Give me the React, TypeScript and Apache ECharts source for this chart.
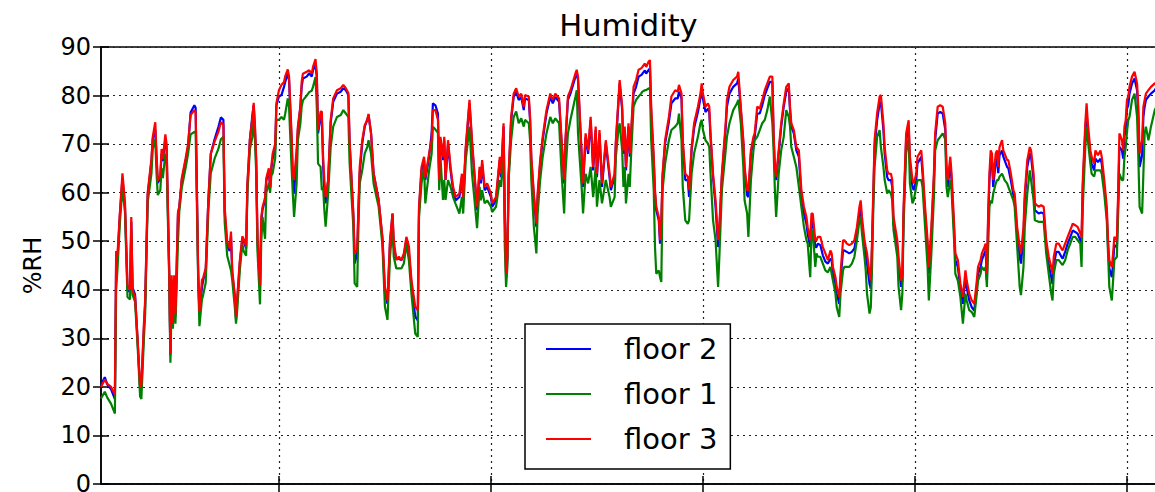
import React, { useEffect, useRef } from "react";
import * as echarts from "echarts";

// time in hours from the start of the record
const hours = [
  0, 3, 5, 8, 11, 12, 13, 15, 17, 19,
  21, 23, 24, 25, 27, 29, 31, 32, 34, 35,
  37, 40, 41, 43, 44, 45, 47, 48, 49, 51,
  52, 54, 55, 56, 57, 58, 59, 61, 62, 64,
  67, 69, 71, 74, 75, 77, 78, 80, 81, 83,
  85, 87, 90, 93, 95, 97, 98, 100, 102, 103,
  104, 106, 107, 108, 110, 112, 113, 115, 116, 118,
  120, 121, 122, 123, 124, 126, 127, 128, 130, 131,
  133, 134, 135, 136, 138, 139, 141, 143, 145, 146,
  148, 149, 151, 152, 153, 155, 156, 158, 159, 160,
  163, 165, 167, 168, 170, 171, 172, 174, 175, 176,
  177, 178, 180, 182, 184, 187, 190, 192, 194, 196,
  197, 199, 200, 201, 203, 204, 205, 207, 209, 211,
  212, 214, 216, 220, 223, 225, 227, 229, 231, 232,
  234, 236, 238, 240, 242, 244, 246, 249, 251, 252,
  254, 256, 257, 260, 262, 263, 265, 267, 268, 269,
  271, 272, 273, 275, 277, 279, 281, 284, 286, 287,
  289, 292, 294, 296, 298, 300, 301, 302, 304, 306,
  309, 310, 313, 316, 317, 319, 320, 321, 322, 323,
  325, 327, 329, 331, 333, 335, 336, 339, 340, 341,
  343, 345, 346, 348, 350, 353, 356, 358, 360, 363,
  365, 367, 368, 370, 372, 376, 377, 378, 381, 382,
  384, 386, 388, 390, 392, 393, 395, 397, 400, 403,
  404, 407, 408, 410, 411, 413, 414, 415, 416, 418,
  419, 420, 422, 424, 426, 428, 429, 431, 432, 434,
  435, 436, 438, 439, 440, 442, 443, 444, 445, 447,
  450, 452, 455, 457, 458, 460, 461, 463, 465, 466,
  468, 470, 473, 475, 476, 477, 479, 481, 482, 483,
  485, 487, 489, 490, 492, 495, 496, 498, 501, 504,
  505, 507, 509, 510, 512, 513, 515, 517, 518, 520,
  522, 524, 526, 528, 530, 532, 533, 534, 535, 537,
  539, 541, 543, 545, 546, 547, 549, 551, 553, 555,
  557, 559, 560, 562, 563, 564, 566, 567, 568, 570,
  572, 574, 576, 578, 579, 580, 582, 583, 585, 586,
  588, 589, 591, 593, 595, 597, 599, 601, 602, 603,
  605, 606, 607, 609, 610, 611, 612, 613, 615, 617,
  618, 620, 621, 623, 624, 626, 627, 628, 631, 632,
  634, 635, 636, 638, 640, 641, 643, 644, 646, 647,
  650, 651, 653, 655, 656, 658, 660, 661, 663, 665,
  667, 669, 670, 671, 673, 674, 676, 677, 679, 681,
  683, 685, 686, 688, 690, 692, 694, 695, 697, 698,
  700, 701, 702, 703, 704, 705, 706, 707, 709, 710,
  711, 712, 714, 715, 716, 718, 719, 721, 723, 724,
  726, 728, 729, 731, 732, 734, 736, 737, 739, 740,
  743, 745, 747, 749, 751, 753, 754, 755, 757, 759,
  761, 762, 764, 766, 769, 770, 772, 774, 776, 777,
  778, 780, 781, 782, 784, 785, 787, 788, 790, 792,
  793, 795, 797, 798, 799, 801, 802, 803, 805, 806,
  807, 809, 810, 811, 812, 813, 814, 815, 817, 819,
  821, 822, 823, 825, 826, 827, 828, 830, 832, 835,
  836,
];

const floor2 = [
  20.5, 22, 20.5, 19.5, 17.5, 46, 46, 55.5, 63, 57,
  40, 39.5, 54, 40.5, 39, 29.5, 19.5, 20, 32, 37,
  59.5, 66.5, 71, 73, 67, 62, 63, 68, 66.5, 71,
  69, 44, 26.5, 41, 33, 42, 34.5, 55.5, 57, 62.5,
  66.5, 69.5, 76.5, 78, 77.5, 43, 35, 40.5, 42, 44,
  58, 68, 71, 73.5, 75.5, 75, 56, 49, 48, 51,
  43.5, 38.5, 34, 38, 45.5, 50.5, 50, 48.5, 61, 71,
  76, 78, 73, 66, 50, 40.5, 54, 56.5, 58.5, 62.5,
  64.5, 61, 65, 67, 69, 78, 79.8, 80.1, 81.8, 82.8,
  84.6, 83.2, 70.8, 62.6, 59.8, 67.4, 72.9, 77.7, 81.8, 83.5,
  83.9, 84.6, 83.9, 85.2, 86.3, 83.9, 72.2, 75.6, 75, 66,
  59.1, 57.8, 62.6, 74.3, 78.7, 80.4, 80.8, 81.5, 81.1, 80.1,
  70.1, 60.2, 55, 45.4, 47.5, 56.4, 63.9, 70.1, 73.6, 75,
  76, 72.2, 64, 58.5, 50.5, 39.2, 37.1, 49.5, 55.7, 48.8,
  46.4, 46.4, 46.1, 47.1, 50.2, 47.5, 41.3, 34.4, 33.7, 56.4,
  64.6, 66.7, 62.6, 67.4, 72.2, 78.4, 78, 76.3, 63.2, 70.8,
  66.7, 70.8, 62.6, 70.1, 64.6, 60.5, 58.4, 59.1, 63.2, 58.4,
  68.7, 78.4, 70.1, 63.2, 56.4, 64.6, 61.9, 66, 60.5, 61.2,
  59.1, 57.1, 58.4, 66.7, 63.2, 73.6, 55, 42.6, 46.1, 63.2,
  74.9, 79.7, 80.8, 79.1, 79.7, 77, 79.4, 79.1, 74.9, 66.7,
  59.1, 52.9, 59.1, 66, 70.8, 76.3, 79.7, 78.4, 79.7, 78.7,
  70.1, 61.9, 70.1, 79.1, 80.4, 83.9, 84.6, 83.2, 66.7, 61.2,
  71.5, 68, 74.9, 64.6, 72.9, 63.2, 72.2, 61.2, 70.1, 63.2,
  60.5, 63.2, 70.1, 78.4, 82.5, 77, 68, 72.9, 64.6, 73.6,
  67.4, 71.5, 80.4, 81.8, 83.9, 84.2, 84.5, 85.2, 84.5, 85.3,
  85.6, 76.3, 66.4, 59.8, 56.4, 54.3, 49.5, 53.6, 63.2, 70.1,
  74.6, 78.4, 79.4, 79.4, 80.8, 79.4, 70.1, 62.6, 62.6, 59.1,
  68.7, 73.3, 76.6, 79.4, 81.1, 79.4, 76.6, 77.3, 76.6, 71.5,
  63.2, 57.1, 48.8, 52.2, 63.2, 73.3, 77.7, 80.4, 81.8, 82.5,
  83.5, 77, 70.1, 64.6, 59.5, 59.1, 68, 70.8, 71.5, 76.3,
  76.3, 78, 80.1, 81.5, 82.8, 82.8, 71.5, 64.6, 62.6, 68,
  73.6, 77.7, 80.8, 81.5, 77, 73.6, 72.2, 68.7, 67.4, 59.1,
  55.7, 53.6, 51.5, 48.8, 54.3, 54.3, 48.8, 48.8, 49.5, 49.2,
  47.1, 45.8, 45.4, 46.4, 46.1, 43.3, 41.2, 39.2, 37.1, 41.9,
  48.1, 48.1, 47.8, 47.5, 47.8, 48.5, 51.5, 55.7, 57.1, 53.6,
  48.8, 47.1, 45.4, 41.2, 40.2, 48.8, 59.1, 69.4, 74.9, 78.4,
  78.7, 72.9, 68, 63.2, 62.6, 62.6, 61.2, 53.6, 48.8, 45.4,
  40.6, 41.9, 55.7, 70.8, 73.6, 66, 61.2, 60.5, 62.6, 66,
  67.4, 64, 55.7, 48.8, 43.3, 51.5, 62.6, 70.8, 76.3, 76.6,
  76.3, 73, 64, 61.2, 66, 62.6, 52.2, 46.1, 44.7, 40.2,
  37.1, 42.6, 40.5, 37.8, 36.4, 35.7, 40.5, 43.3, 44.7, 46.1,
  47.5, 48.1, 42, 54.3, 62.5, 67, 66.4, 61.2, 66.4, 67,
  64, 67.7, 68.7, 67.4, 66.7, 65.3, 65, 62.5, 59.5, 58.8,
  51.5, 46.8, 45.4, 51.2, 58.4, 65.3, 68.1, 67.4, 62.6, 56.4,
  55.7, 55.9, 55.7, 49.2, 45.1, 42.6, 41.2, 45.1, 47.8, 47.8,
  46.8, 46.4, 47.8, 49.5, 51.5, 52.2, 51.9, 51.5, 50.2, 49.5,
  61.2, 72.9, 76.6, 72.9, 67.4, 66, 64.6, 67, 66.3, 67,
  66, 61.2, 55.7, 48.8, 44.4, 42.6, 45.4, 49.2, 48.8, 58.4,
  69.4, 68.7, 67, 71.5, 73.3, 77.3, 78, 80.4, 82.5, 83.5,
  81.1, 75.6, 65.3, 67.7, 75.6, 77.7, 79.1, 79.8, 80.4, 81.1,
  81.5,
];

const floor1 = [
  17.6, 19, 17.8, 16.5, 14.5, 40, 44, 54, 61, 56,
  38.5, 38, 52, 39, 37.5, 28.5, 18, 17.5, 30, 35,
  58, 64, 69, 71, 64, 59.5, 60.5, 65, 63, 68,
  66, 43, 25, 38, 32, 40, 33, 50, 56, 61,
  65, 68, 72, 72.5, 72.5, 42, 32.5, 38, 39, 41.5,
  56, 64, 67, 69, 71, 71.5, 54, 47, 45, 44,
  42, 36.5, 33, 36, 44, 49.5, 48, 47, 60, 69,
  71.5, 75, 71, 64, 48, 37, 50, 55, 50.5, 60,
  62, 60, 63.5, 64, 67, 75, 75, 75.6, 75, 76.3,
  79.4, 77.7, 65.3, 59.8, 55, 61.9, 70.8, 74.3, 77.7, 79,
  80, 80.7, 81, 81.8, 83.8, 77.7, 66, 65.3, 60.5, 61.2,
  56.4, 53, 59.8, 69.4, 73.6, 75.6, 76, 77, 76.3, 75.6,
  66.1, 57.1, 53, 41.3, 40.6, 53, 61.9, 64.6, 68.1, 69.4,
  70.8, 68, 61.9, 57.1, 49.2, 36.5, 33.8, 46.8, 53, 46.8,
  44.4, 44.4, 44.4, 45.4, 49.5, 46, 39.2, 31, 30.3, 55,
  61.9, 65.3, 57.8, 64.6, 68, 73.6, 73, 72.3, 60.5, 67.4,
  58.5, 62.6, 58.5, 62.6, 61.2, 59.1, 57.7, 55.7, 59.1, 55.7,
  66.7, 73.6, 63.9, 58.4, 52.7, 61.2, 58.4, 60.5, 57.8, 58.4,
  57.1, 56, 57.1, 62.6, 61.2, 68.7, 48.8, 40.6, 44.7, 62.6,
  70.8, 75.6, 76.7, 74.3, 75.3, 73.6, 75, 74.3, 70.8, 62.6,
  53, 47.5, 55.7, 62.6, 67.4, 72.2, 75.6, 74.3, 75.3, 74.3,
  63.9, 55.7, 63.9, 72.2, 75, 79.8, 81.1, 72.2, 60.5, 55.7,
  63.9, 61.9, 65.3, 59.1, 65.3, 57.1, 62.6, 57.8, 62.6, 59.1,
  57.1, 59.1, 67.4, 72.9, 74.3, 68.7, 61.2, 65.3, 57.8, 63.9,
  61.2, 67.4, 77.7, 79.1, 79.8, 80.4, 80.8, 81.1, 81.1, 81.5,
  81.5, 70.8, 60.5, 48.8, 43.3, 44, 42.6, 41.6, 60.5, 66,
  70.8, 72.9, 73.6, 74.3, 76.3, 70.8, 61.2, 54.3, 53.6, 54.3,
  63.9, 68.1, 71.5, 74.3, 75, 72.9, 70.8, 70.1, 69.4, 63.9,
  54.3, 50.2, 40.6, 46.8, 60.5, 68.7, 71.5, 74.3, 77, 78.4,
  79.1, 74.3, 65.3, 58.4, 55.7, 50.9, 62.6, 68.7, 70.8, 71.5,
  72.9, 74.3, 75, 77, 79.8, 74.3, 68.7, 60.5, 55, 63.9,
  68.7, 71.5, 77, 75.6, 73.6, 69.4, 67.4, 65.3, 61.2, 57.1,
  53, 50.2, 49.5, 42.6, 51.6, 52.3, 44.7, 47.5, 46.8, 46.8,
  45.4, 44, 43.6, 44.7, 43.3, 41.9, 39.2, 36.4, 34.4, 39.2,
  44, 44.7, 44.7, 44.7, 45.4, 46.8, 50.2, 54.3, 55, 51.6,
  46.8, 44, 39.2, 35.1, 36.4, 44.7, 57.1, 65.3, 71.5, 72.9,
  69.4, 65.3, 62.6, 59.8, 60.5, 59.8, 58.4, 52.3, 46.8, 40.6,
  35.8, 39.2, 53.6, 68.1, 71.5, 61.9, 57.8, 58.4, 61.2, 62.6,
  62.6, 61.2, 53, 44.7, 37.8, 47.5, 59.1, 68.7, 70.8, 71.5,
  72.2, 71, 61.2, 59.1, 62.6, 60.5, 50.2, 43.3, 41.9, 38.5,
  33, 39.2, 37.8, 35.8, 35.4, 34.4, 39.2, 41.9, 43.3, 44.7,
  44, 44.7, 40.6, 48.8, 57.1, 58.4, 57.8, 59.8, 61.9, 62.6,
  62.6, 63.3, 63.9, 63.3, 62.6, 61.9, 61.2, 59.8, 58.4, 57.1,
  48.8, 40.6, 38.9, 44.7, 53, 59.8, 64.6, 62.6, 58.4, 54.3,
  54, 54, 54, 47.5, 43.3, 39.2, 37.8, 43.3, 46.1, 46.1,
  45.4, 45.1, 46.1, 48.1, 50.2, 50.9, 50.9, 50.2, 49.5, 44.7,
  57.1, 69.4, 73.6, 70.8, 66, 63.9, 63.3, 64.6, 64.6, 64.6,
  63.9, 59.8, 54.3, 47.5, 40.6, 37.8, 41.9, 46.1, 46.8, 55.7,
  63.9, 62.6, 62.6, 67.4, 69.4, 72.5, 74.9, 75.6, 79.1, 80.4,
  75.6, 67.4, 57.1, 55.7, 63.9, 72.2, 73.6, 70.8, 73.6, 77,
  77.5,
];

const floor3 = [
  20, 21.5, 20.6, 20, 18.5, 48, 47, 56, 64, 58,
  41, 40, 55, 40, 38.5, 30, 20, 20.5, 33, 38,
  60, 67, 71.5, 74.5, 68, 62.5, 63.5, 69, 67, 72,
  70, 45, 27, 43, 33, 43, 35, 56, 57, 63,
  67, 70, 76, 77, 76.5, 44, 35.5, 42, 42.5, 44.5,
  58, 68, 70.5, 72.5, 74.5, 74, 57, 50, 48.5, 52,
  44, 39, 34.5, 38.5, 46, 51, 50.5, 49, 62, 71,
  75.5, 78.5, 74, 67, 51, 41, 55, 57, 59, 63,
  65, 61, 65.5, 68, 70, 78.4, 81.1, 82.2, 82.8, 84,
  85.4, 84, 72.2, 64, 62.6, 68.8, 73.6, 77.7, 82.8, 84.5,
  84.9, 85.2, 84.5, 85.9, 87.5, 84.5, 72.9, 76.7, 76.7, 67.4,
  62.6, 59.1, 62.6, 75, 79.4, 81.1, 81.5, 82.2, 81.5, 80.5,
  70.8, 60.5, 55.7, 47.5, 48.2, 57.1, 65.3, 70.8, 73.9, 75,
  76.2, 72.2, 64, 58.5, 50.9, 40.6, 37.8, 50.2, 55.7, 50.2,
  46.1, 46.8, 46.1, 47.5, 50.9, 48.9, 42, 36.5, 35.8, 57.1,
  65.3, 67.4, 63.2, 68.1, 70.8, 77, 77, 75, 62.6, 71.5,
  67.4, 71.5, 62.6, 70.8, 65.3, 61.2, 59.1, 59.8, 63.9, 59.1,
  69.4, 79.1, 70.8, 63.9, 57.1, 65.3, 62.6, 66.7, 61.2, 61.9,
  59.8, 57.8, 59.1, 67.4, 63.9, 74.3, 55.7, 43.3, 46.8, 63.9,
  75.6, 80.4, 81.5, 79.8, 80.4, 77.7, 80.1, 79.8, 75.6, 67.4,
  59.8, 53.6, 59.8, 66.7, 71.5, 77, 80.4, 79.1, 80.4, 79.4,
  70.8, 62.6, 70.8, 79.8, 81.1, 84.6, 85.3, 83.9, 67.4, 61.9,
  72.2, 68.7, 75.6, 65.3, 73.6, 63.9, 72.9, 61.9, 70.8, 63.9,
  61.2, 63.9, 70.8, 79.1, 83.2, 77.7, 68.7, 73.6, 65.3, 74.3,
  68.1, 72.2, 81.8, 83.2, 85.3, 85.6, 85.9, 86.6, 85.9, 87,
  87.3, 77.7, 67.4, 60.5, 57.1, 55, 50.2, 54.3, 63.9, 70.8,
  75.6, 79.8, 81.1, 80.8, 82.2, 80.4, 70.8, 63.9, 63.3, 60.5,
  69.4, 74.3, 77.7, 80.4, 82.5, 80.4, 77.7, 78.4, 77.7, 72.2,
  63.9, 58.4, 50.2, 53, 63.9, 74.3, 79.1, 81.8, 83.2, 83.9,
  84.9, 77.7, 70.8, 65.3, 60.5, 60.5, 68.7, 71.5, 72.2, 77.7,
  77.3, 79.1, 81.1, 82.5, 83.9, 83.9, 72.2, 65.3, 63.3, 68.7,
  74.3, 78.4, 81.8, 82.5, 77.7, 74.3, 72.9, 69.4, 68.7, 60.5,
  57.1, 55, 52.9, 50.2, 55.7, 55.7, 50.2, 50.2, 50.9, 50.9,
  48.8, 47.5, 46.1, 48.1, 47.5, 44.7, 42.6, 40.6, 38.5, 43.3,
  50.2, 50.2, 49.5, 49.2, 49.5, 50.2, 52.9, 57.1, 58.4, 55,
  50.2, 48.8, 47.5, 43.3, 41.9, 50.2, 60.5, 70.8, 76.3, 79.8,
  80.1, 74.3, 69.4, 64.6, 63.9, 63.9, 62.6, 55, 50.2, 46.8,
  41.9, 43.3, 57.1, 72.2, 74.9, 67.4, 62.6, 61.9, 63.9, 67.4,
  68.7, 65.3, 57.1, 50.2, 44.7, 52.9, 63.9, 72.2, 77.7, 78,
  77.7, 74.3, 65.3, 62.6, 67.4, 63.9, 53.6, 47.5, 46.1, 41.3,
  38.5, 44, 41.9, 39.2, 37.8, 37.1, 41.9, 44.7, 46.1, 47.5,
  48.8, 49.5, 43.3, 55.7, 63.9, 68.7, 68.1, 62.6, 68.1, 68.7,
  65.3, 69.4, 70.8, 68.7, 68.1, 66.7, 66.7, 63.9, 60.5, 59.8,
  52.9, 48.8, 47.5, 52.9, 59.8, 66.7, 69.4, 68.7, 63.9, 57.8,
  57.1, 57.4, 57.1, 50.2, 46.8, 44.7, 43.3, 46.8, 49.5, 49.5,
  48.5, 48.1, 49.5, 50.9, 52.9, 53.6, 53.3, 52.9, 51.6, 50.9,
  62.6, 74.3, 78.4, 74.3, 68.7, 67.4, 66, 68.7, 67.7, 68.7,
  67.4, 62.6, 57.1, 50.2, 46.1, 44.7, 47.5, 50.9, 50.2, 59.8,
  72.2, 70.8, 68.7, 73.6, 74.9, 79.1, 79.8, 81.8, 83.9, 84.9,
  82.5, 77.7, 68.1, 70.8, 77.7, 79.1, 80.4, 81.1, 81.8, 82.5,
  82.5,
];

const gridHours = [141, 309, 477, 645, 813];
const seriesNames = ["floor 2", "floor 1", "floor 3"];
const seriesColors = ["#0000ff", "#008000", "#ff0000"];
const FONT = "DejaVu Sans";

export default function App() {
  const ref = useRef<HTMLDivElement>(null);

  useEffect(() => {
    if (!ref.current) return;
    const chart = echarts.init(ref.current, null, { renderer: "svg" });
    const values = [floor2, floor1, floor3];
    const dotted = { color: "#222", width: 1.2, type: [2, 4] as number[] };
    const tickStyle = { color: "#000", width: 1.5 };

    chart.setOption({
      animation: false,
      backgroundColor: "#fff",
      title: {
        text: "Humidity",
        left: "center",
        top: 5,
        textStyle: { fontFamily: FONT, fontSize: 30.5, fontWeight: "normal", color: "#000" },
      },
      grid: {
        left: 101,
        right: 101,
        top: 47,
        bottom: 8,
        show: true,
        borderColor: "#000",
        borderWidth: 1.5,
        outerBoundsMode: "none",
        containLabel: false,
      },
      legend: {
        orient: "vertical",
        left: 525,
        top: 324,
        data: seriesNames,
        icon: "rect",
        itemWidth: 45,
        itemHeight: 2,
        itemGap: 11,
        padding: [8, 13, 13, 21],
        borderColor: "#000",
        borderWidth: 1.5,
        borderRadius: 0,
        backgroundColor: "#fff",
        textStyle: {
          fontFamily: FONT,
          fontSize: 29,
          color: "#000",
          lineHeight: 34,
          padding: [0, 0, 0, 28],
        },
      },
      xAxis: [
        {
          type: "value",
          min: 0,
          max: 836,
          axisLine: { show: true, lineStyle: { color: "#000", width: 1.5 } },
          axisTick: { show: true, inside: true, length: 8, customValues: gridHours, lineStyle: tickStyle },
          axisLabel: { show: false },
          splitLine: { show: true, lineStyle: dotted },
        },
        {
          type: "value",
          position: "top",
          min: 0,
          max: 836,
          axisLine: { show: false },
          axisTick: { show: true, inside: true, length: 8, customValues: gridHours, lineStyle: tickStyle },
          axisLabel: { show: false },
          splitLine: { show: false },
        },
      ],
      yAxis: [
        {
          type: "value",
          min: 0,
          max: 90,
          interval: 10,
          name: "%RH",
          nameLocation: "middle",
          nameGap: 56,
          nameRotate: 90,
          nameTextStyle: { fontFamily: FONT, fontSize: 24, color: "#000" },
          axisLine: { show: true, lineStyle: { color: "#000", width: 1.5 } },
          axisTick: { show: true, inside: true, length: 8, lineStyle: tickStyle },
          axisLabel: { fontFamily: FONT, fontSize: 24, color: "#000", margin: 10 },
          splitLine: { show: true, lineStyle: dotted },
        },
        {
          type: "value",
          position: "right",
          min: 0,
          max: 90,
          interval: 10,
          axisLine: { show: false },
          axisTick: { show: true, inside: true, length: 8, lineStyle: tickStyle },
          axisLabel: { show: false },
          splitLine: { show: false },
        },
      ],
      series: seriesNames.map((name, i) => ({
        name,
        type: "line",
        xAxisIndex: 0,
        yAxisIndex: 0,
        showSymbol: false,
        symbol: "none",
        color: seriesColors[i],
        lineStyle: { color: seriesColors[i], width: 2.2 },
        data: hours.map((h, j) => [h, values[i][j]]),
        silent: true,
      })),
    });

    return () => chart.dispose();
  }, []);

  return (
    <div
      style={{
        position: "fixed",
        left: 0,
        top: 0,
        width: 1155,
        height: 492,
        overflow: "hidden",
        background: "#fff",
      }}
    >
      <div ref={ref} style={{ width: 1257, height: 492 }} />
    </div>
  );
}
